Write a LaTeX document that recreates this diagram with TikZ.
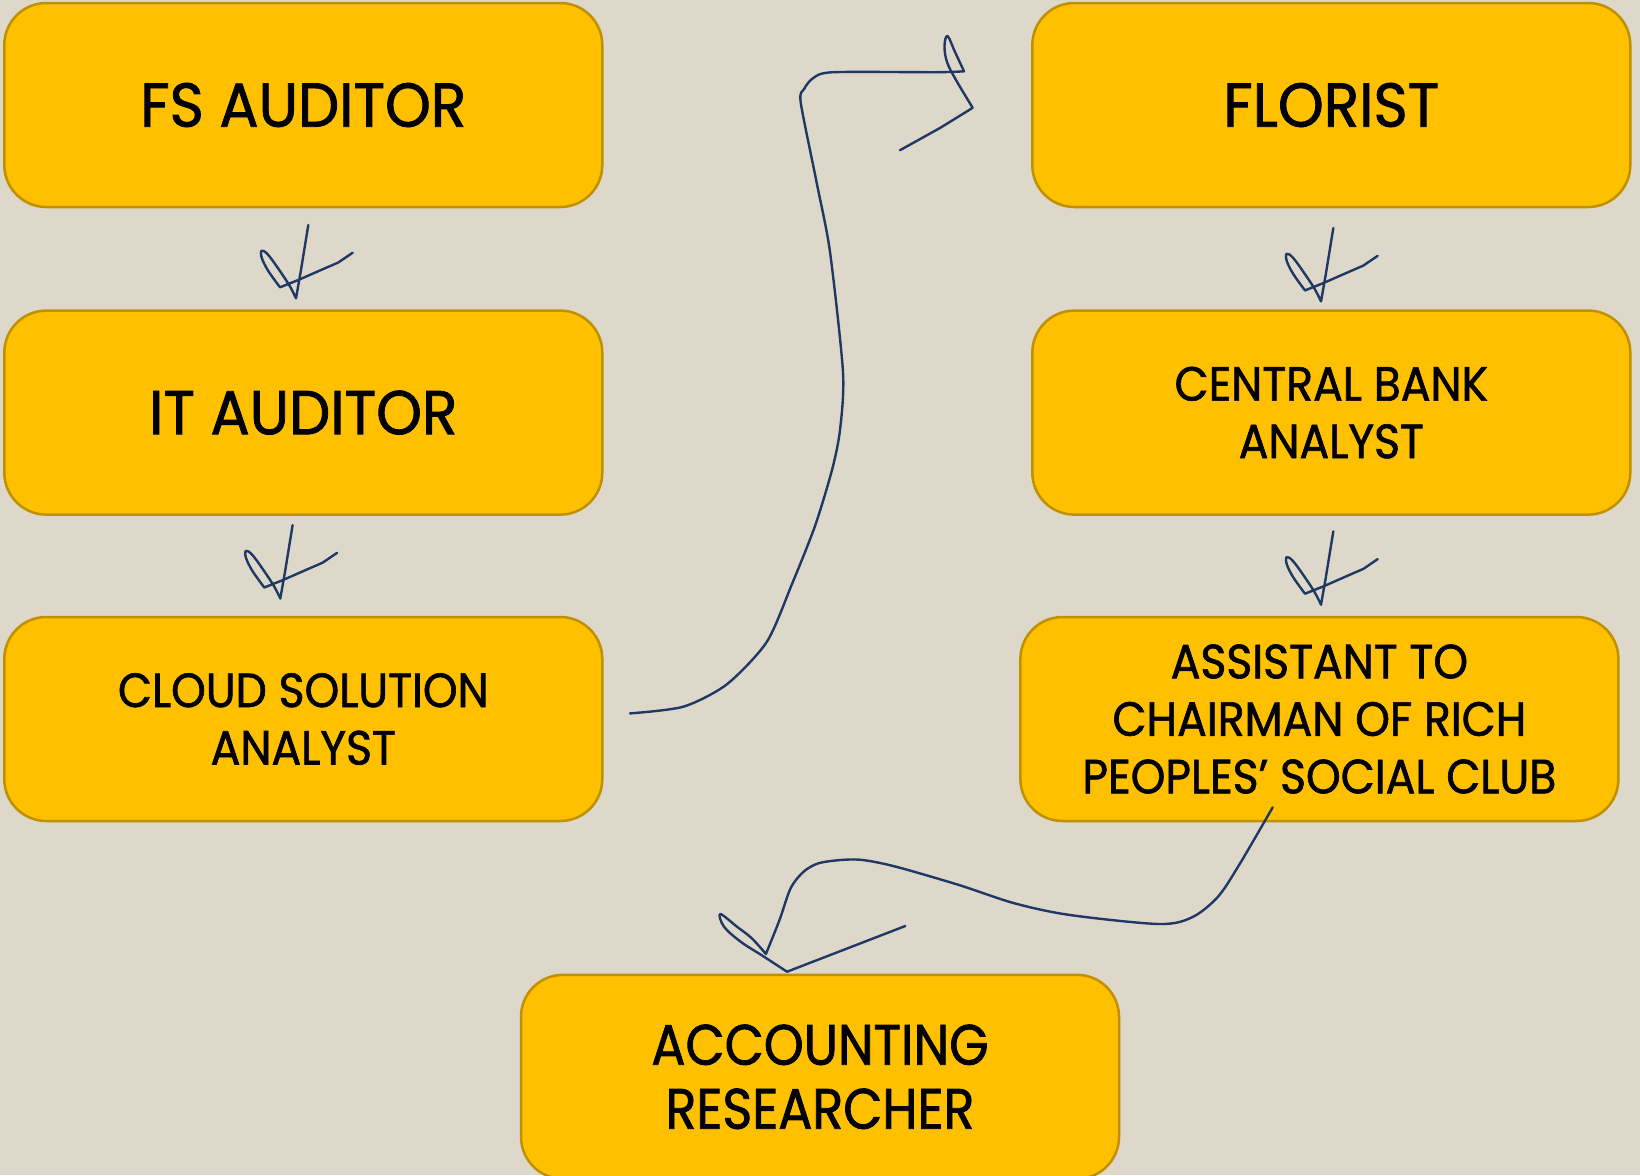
\documentclass[tikz,border=0pt]{standalone}
\usepackage{fontspec}
\newfontfamily\boxfont{Poppins}[FakeStretch=0.94, FakeBold=1.3]
\newfontfamily\boxfontn{Poppins}[FakeStretch=0.89, FakeBold=1.3]
\newfontfamily\boxfontw{Poppins}[FakeStretch=0.92, FakeBold=1.3]
\definecolor{bg}{HTML}{DDD8CA}
\definecolor{boxfill}{HTML}{FFC000}
\definecolor{boxborder}{HTML}{BF9000}
\definecolor{ink}{HTML}{1F3864}
\tikzset{
  jobbox/.style={draw=boxborder, line width=2.5pt, fill=boxfill, rounded corners=42pt,
    minimum width=598pt, minimum height=204pt, align=center, inner sep=0pt},
  bigtxt/.style={font=\boxfont\fontsize{62}{70}\selectfont},
  midtxt/.style={font=\boxfontn\fontsize{57}{64}\selectfont},
  smalltxt/.style={font=\boxfontw\fontsize{48}{57.5}\selectfont},
  inkline/.style={draw=ink, line width=2.4pt, line join=round, line cap=round},
  chk/.pic={
    \draw[inkline] (0,0) -- (-7.6,46.7) -- (-12.3,73.3)
      plot[smooth, tension=0.6] coordinates {(-12.3,73.3) (-18,62) (-27,48) (-40,30) (-46.6,25.7) (-46.5,33) (-40,46) (-28.3,62.3)}
      -- (-10,55) -- (15,44) -- (30,37.5) -- (44.4,27.7);
  }
}
\begin{document}
\begin{tikzpicture}[x=1pt,y=-1pt]
\useasboundingbox (0,0) rectangle (1640,1175);
\fill[bg] (0,0) rectangle (1640,1175);

\node[jobbox, bigtxt] (fs) at (303.3,105) {FS AUDITOR};
\node[jobbox, bigtxt] (it) at (303.3,412.6) {IT AUDITOR};
\node[jobbox, smalltxt] (cloud) at (303.3,719) {CLOUD SOLUTION\\ANALYST};
\node[jobbox, bigtxt] (florist) at (1331.3,105) {FLORIST};
\node[jobbox, smalltxt] (cbank) at (1331.3,412.6) {CENTRAL BANK\\ANALYST};
\node[jobbox, smalltxt] (assist) at (1319.4,719) {ASSISTANT TO\\CHAIRMAN OF RICH\\PEOPLES’ SOCIAL CLUB};
\node[jobbox, midtxt] (acc) at (820,1076.8) {ACCOUNTING\\RESEARCHER};

\pic at (308.3,225) {chk};
\pic at (292.6,525.2) {chk};
\pic at (1333.3,228.1) {chk};
\pic at (1333.3,531.4) {chk};

\coordinate (a1s) at (630,713.4);
\coordinate (a1e) at (900,150.2);
\draw[inkline] plot[smooth, tension=0.45] coordinates {(a1s) (683.3,706.7) (726.7,684.4) (766.7,642) (792,584) (815,526) (832,470) (840,430) (843,372.3) (830,251.9) (816.7,182.8) (800.7,102.5) (804,89.1) (813.3,78) (833.3,72.2) (936.7,72.2) (964,71.3)}
  plot[smooth, tension=0.6] coordinates {(964,71.3) (955,52) (947.5,36) (944.5,46) (947,62) (956,80) (972.7,107.8)}
  -- (940,128) -- (a1e);

\coordinate (a2s) at (1272.7,807.3);
\coordinate (a2e) at (905.3,926);
\draw[inkline] plot[smooth, tension=0.5] coordinates {(a2s) (1240.1,863.3) (1218,896.7) (1192,917.3) (1158.7,924) (1070,915) (1014.5,903.3) (959,885) (896,866.7) (862.8,860) (840.6,860) (818.4,863.3) (803.6,871.7) (790.6,888.3) (779.5,920) (765.9,954)}
  plot[smooth, tension=0.6] coordinates {(765.9,954) (751.8,938.3) (737,926.7) (720.3,914) (724,926.7) (740.7,941.7) (762.9,956) (787,971.7)}
  -- (a2e);
\end{tikzpicture}
\end{document}
